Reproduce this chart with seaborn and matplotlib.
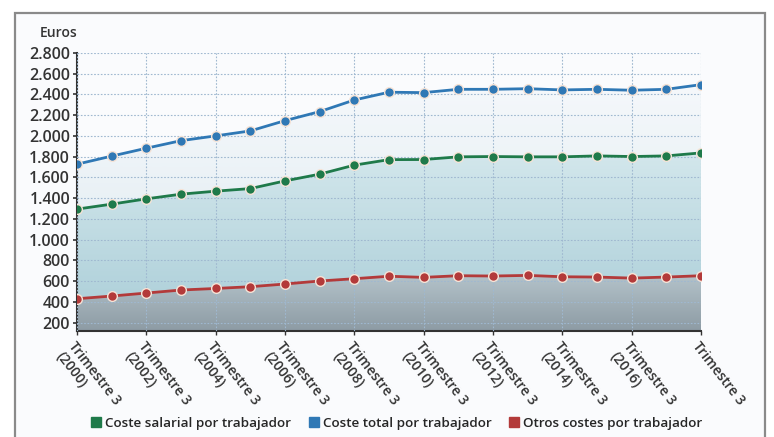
import pandas as pd
import matplotlib.pyplot as plt
import seaborn as sns
import numpy as np
from matplotlib.colors import LinearSegmentedColormap
from matplotlib.lines import Line2D
from matplotlib.patches import Rectangle
from matplotlib.ticker import FuncFormatter

# ================================ Data ===================================

years = list(range(2000, 2019))
coste_total = [1728, 1806, 1882, 1955, 2001, 2049, 2148, 2235, 2347, 2422,
               2418, 2450, 2450, 2456, 2444, 2450, 2441, 2450, 2495]
coste_salarial = [1295, 1343, 1394, 1439, 1468, 1493, 1567, 1632, 1719, 1772,
                  1773, 1799, 1802, 1799, 1799, 1808, 1802, 1808, 1837]
otros_costes = [431, 457, 486, 515, 530, 547, 573, 602, 624, 648,
                637, 653, 650, 656, 643, 640, 630, 640, 653]
series_names = ["Coste salarial por trabajador", "Coste total por trabajador",
                "Otros costes por trabajador"]
tick_labels = ["Trimestre 3\n(2000)", "Trimestre 3\n(2002)", "Trimestre 3\n(2004)",
               "Trimestre 3\n(2006)", "Trimestre 3\n(2008)", "Trimestre 3\n(2010)",
               "Trimestre 3\n(2012)", "Trimestre 3\n(2014)", "Trimestre 3\n(2016)",
               "Trimestre 3"]

colors = {"Coste salarial por trabajador": "#1f7a4a",
          "Coste total por trabajador": "#2f78b5",
          "Otros costes por trabajador": "#b33a3a"}

idx = np.arange(len(years))
df = pd.DataFrame({
    "idx": np.tile(idx, 3),
    "valor": coste_salarial + coste_total + otros_costes,
    "serie": np.repeat(series_names, len(years)),
})

# ================================ Plot ===================================

sns.set_style("white")
plt.rcParams["font.family"] = ["Open Sans", "DejaVu Sans"]

fig = plt.figure(figsize=(7.74, 4.37), dpi=100)
fig.patch.set_facecolor("white")
fig.patches.append(Rectangle((15 / 774, -0.05), 750 / 774, 1.05 - 13 / 437,
                             transform=fig.transFigure, facecolor="#fafbfd",
                             edgecolor="#8a8a8a", linewidth=1.6, zorder=-10))

ax = fig.add_axes([77 / 774, 1 - 331 / 437, 624 / 774, 278 / 437])
ax.set_facecolor("none")
ymin, ymax = 120, 2800


def gradient_fill(ax, y, c_top, c_bot, ytop):
    poly = ax.fill_between(idx, y, ymin, color="none", lw=0)
    cmap = LinearSegmentedColormap.from_list("g", [c_bot, c_top])
    grad = np.linspace(0, 1, 256).reshape(-1, 1)
    im = ax.imshow(grad, extent=[0, 18, ymin, ytop], origin="lower", aspect="auto",
                   cmap=cmap, zorder=0.5)
    im.set_clip_path(poly.get_paths()[0], transform=ax.transData)


gradient_fill(ax, coste_total, "#f5f8fb", "#dce9ef", 2500)
gradient_fill(ax, coste_salarial, "#d3e7ec", "#a9cdd7", 1840)
gradient_fill(ax, otros_costes, "#b4c3ca", "#8d9ba4", 660)

sns.lineplot(data=df, x="idx", y="valor", hue="serie", palette=colors, ax=ax,
             marker="o", markersize=7, markeredgecolor="#f6e3d6", markeredgewidth=1,
             linewidth=2, legend=False, zorder=3)

ax.set_xlim(0, 18)
ax.set_ylim(ymin, ymax)
ax.set_yticks(range(200, 2801, 200))
ax.yaxis.set_major_formatter(FuncFormatter(lambda v, p: f"{int(v):,}".replace(",", ".")))
ax.set_xticks(range(0, 19, 2))
ax.set_xticklabels(tick_labels, rotation=-52, ha="left", va="top",
                   rotation_mode="anchor", fontsize=10, fontweight="semibold", color="#333333")
for lab in ax.get_yticklabels():
    lab.set_fontsize(11.5)
    lab.set_fontweight("semibold")
    lab.set_color("#333333")
ax.tick_params(axis="y", length=3, width=1.2, color="#333333", pad=2, left=True)
ax.tick_params(axis="x", length=3, width=1, color="#333333", pad=3, bottom=True)
ax.set_xlabel("")
ax.set_ylabel("")

ax.grid(True, linestyle=(0, (1.5, 1.5)), color="#9fb8d0", linewidth=0.8)
ax.set_axisbelow(False)
for gl in ax.get_xgridlines() + ax.get_ygridlines():
    gl.set_zorder(1)
for s in ["top", "right"]:
    ax.spines[s].set_visible(False)
ax.spines["left"].set_color("#333333")
ax.spines["left"].set_linewidth(1.5)
ax.spines["bottom"].set_color("#333333")
ax.spines["bottom"].set_linewidth(1.5)

fig.text(40 / 774, 1 - 33 / 437, "Euros", fontsize=10, fontweight="semibold",
         color="#333333", va="center")

handles = [Line2D([], [], marker="s", linestyle="none", markersize=6.5,
                  color=colors[n]) for n in series_names]
fig.legend(handles, series_names, loc="center", bbox_to_anchor=(397 / 774, 1 - 423 / 437),
           ncol=3, frameon=False, handlelength=0.7, handletextpad=0.35, columnspacing=1.3,
           prop={"weight": "semibold", "size": 9.7})

plt.savefig("out.png", dpi=100)
